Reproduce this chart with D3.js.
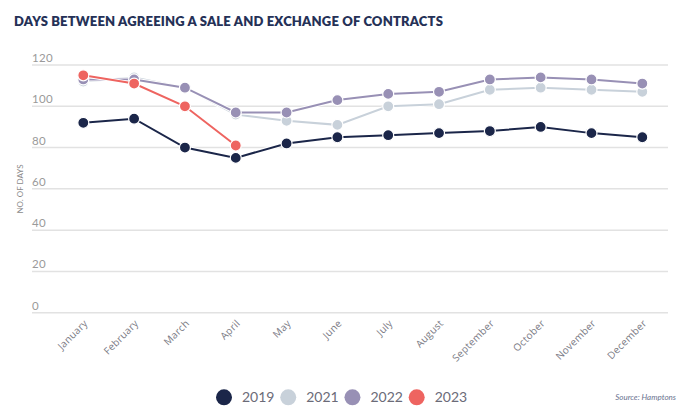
<!DOCTYPE html>
<html><head><meta charset="utf-8">
<script src="https://cdn.jsdelivr.net/npm/d3@7"></script>
<style>
html,body{margin:0;padding:0;background:#fff;}
svg{display:block;}
</style></head>
<body>
<svg id="chart" width="692" height="419"></svg>
<script>
const months = ["January","February","March","April","May","June","July","August","September","October","November","December"];
const yTicks = [0,20,40,60,80,100,120];
const s2019 = [92,94,80,75,82,85,86,87,88,90,87,85];
const s2021 = [112,114,109,96,93,91,100,101,108,109,108,107];
const s2022 = [113,113,109,97,97,103,106,107,113,114,113,111];
const s2023 = [115,111,100,81];
const seriesNames = ["2019","2021","2022","2023"];
const seriesColors = ["#1b2649","#c8d1da","#9890b5","#ee6460"];
const seriesData = [s2019,s2021,s2022,s2023];

const svg = d3.select("#chart");
const font = "Lato, 'Open Sans', sans-serif";

svg.append("text").attr("x",14).attr("y",26)
  .attr("font-family",font).attr("font-weight",800).attr("font-size",13)
  .attr("fill","#253157").attr("letter-spacing",0.18)
  .text("DAYS BETWEEN AGREEING A SALE AND EXCHANGE OF CONTRACTS");

const x = d3.scalePoint().domain(months).range([83.3,642.3]);
const y = d3.scaleLinear().domain([0,120]).range([312.7,65]);
const gridX0 = 32, gridX1 = 668;

const grid = svg.append("g");
grid.selectAll("line").data(yTicks).join("line")
  .attr("x1",gridX0).attr("x2",gridX1)
  .attr("y1",d=>y(d)).attr("y2",d=>y(d))
  .attr("stroke","#e2e2e2").attr("stroke-width",1.5);
grid.selectAll("text").data(yTicks).join("text")
  .attr("x",gridX0).attr("y",d=>y(d)-3)
  .attr("font-family",font).attr("font-size",11.5).attr("fill","#9a9a9a")
  .attr("letter-spacing",0.3)
  .text(d=>d);

svg.append("text")
  .attr("transform","translate(23,189) rotate(-90)")
  .attr("text-anchor","middle")
  .attr("font-family",font).attr("font-size",8).attr("fill","#8a8a8a")
  .text("NO. OF DAYS");

svg.append("g").selectAll("text").data(months).join("text")
  .attr("transform",d=>`translate(${x(d)+5},${324}) rotate(-45)`)
  .attr("text-anchor","end")
  .attr("font-family","'Open Sans', sans-serif").attr("font-size",10).attr("fill","#7a7a84")
  .attr("letter-spacing",0.3)
  .text(d=>d);

const line = d3.line().x((d,i)=>x(months[i])).y(d=>y(d));
seriesData.forEach((data,k)=>{
  const g = svg.append("g");
  g.append("path").datum(data).attr("d",line)
    .attr("fill","none").attr("stroke","#fff").attr("stroke-width",4);
  g.append("path").datum(data).attr("d",line)
    .attr("fill","none").attr("stroke",seriesColors[k]).attr("stroke-width",2);
  g.selectAll("circle").data(data).join("circle")
    .attr("cx",(d,i)=>x(months[i])).attr("cy",d=>y(d)).attr("r",5.5)
    .attr("fill",seriesColors[k]).attr("stroke","#fff").attr("stroke-width",1.2);
});

const legX = d3.scalePoint().domain(seriesNames).range([224,416.7]);
const leg = svg.append("g");
leg.selectAll("circle").data(seriesNames).join("circle")
  .attr("cx",d=>legX(d)).attr("cy",397.3).attr("r",8)
  .attr("fill",(d,i)=>seriesColors[i]);
leg.selectAll("text").data(seriesNames).join("text")
  .attr("x",d=>legX(d)+18).attr("y",402)
  .attr("font-family",font).attr("font-size",14).attr("fill","#6b6b78")
  .text(d=>d);

svg.append("text").attr("x",676).attr("y",400).attr("text-anchor","end")
  .attr("font-family",font).attr("font-style","italic").attr("font-size",8)
  .attr("fill","#6a7390").text("Source: Hamptons");
</script>
</body></html>
